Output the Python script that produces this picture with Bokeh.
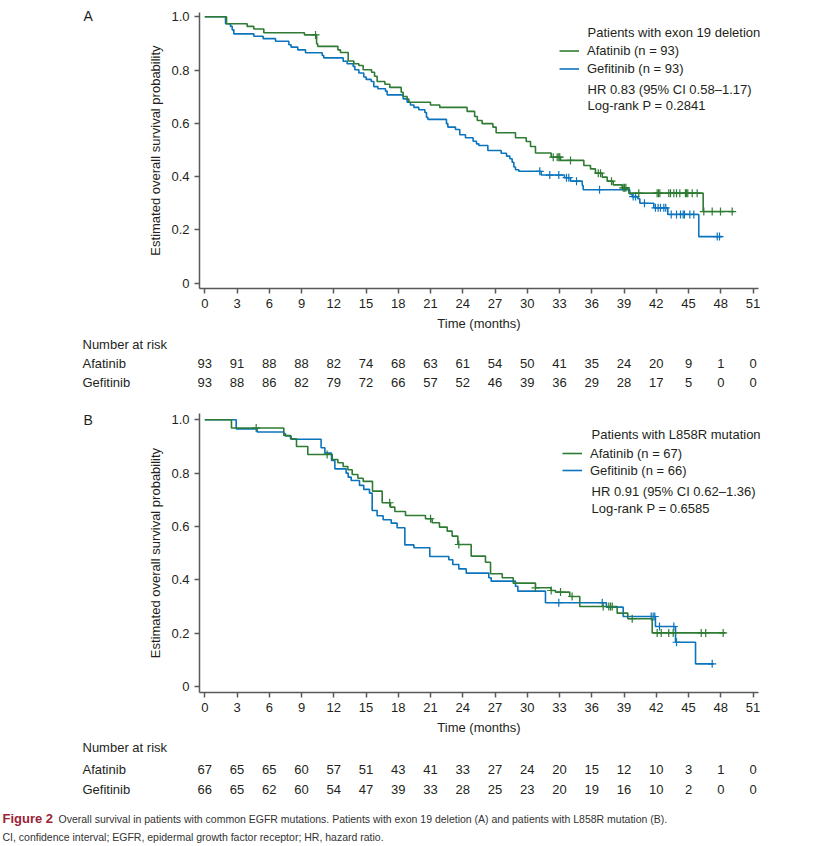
import numpy as np
from bokeh.plotting import figure
from bokeh.models import (Range1d, FixedTicker, Label, LabelSet, ColumnDataSource,
                          Legend, LegendItem, CustomJSTickFormatter)
from bokeh.layouts import column
from bokeh.embed import file_html
from bokeh.resources import INLINE
from bokeh.core.properties import value

# ---------------- data ----------------
x_ticks = list(range(0, 52, 3))
y_ticks = [0, 0.2, 0.4, 0.6, 0.8, 1.0]
risk_times = list(range(0, 52, 3))
risk_rows = ["Afatinib", "Gefitinib"]

a_afa_risk = [93, 91, 88, 88, 82, 74, 68, 63, 61, 54, 50, 41, 35, 24, 20, 9, 1, 0]
a_gef_risk = [93, 88, 86, 82, 79, 72, 66, 57, 52, 46, 39, 36, 29, 28, 17, 5, 0, 0]
b_afa_risk = [67, 65, 65, 60, 57, 51, 43, 41, 33, 27, 24, 20, 15, 12, 10, 3, 1, 0]
b_gef_risk = [66, 65, 62, 60, 54, 47, 39, 33, 28, 25, 23, 20, 19, 16, 10, 2, 0, 0]

# Panel A, Afatinib (exon 19 deletion)
a_afa_time = [2.02, 3.94, 4.56, 5.49, 9.27, 10.40, 10.50, 12.38, 12.62, 13.34, 13.86, 14.33,
              14.73, 15.51, 15.79, 16.03, 16.75, 17.21, 18.27, 18.45, 18.82, 18.98, 20.99,
              21.86, 24.40, 25.10, 25.35, 25.80, 26.80, 27.10, 28.90, 29.90, 30.30, 30.76,
              32.22, 33.09, 35.26, 35.88, 36.34, 36.97, 37.43, 37.99, 38.83, 39.44, 46.36]
a_afa_surv = [0.974, 0.964, 0.954, 0.940, 0.932, 0.899, 0.889, 0.876, 0.866, 0.834, 0.824, 0.817,
              0.801, 0.792, 0.777, 0.757, 0.747, 0.735, 0.717, 0.701, 0.691, 0.679, 0.669,
              0.660, 0.645, 0.626, 0.611, 0.599, 0.586, 0.565, 0.546, 0.532, 0.513, 0.489,
              0.473, 0.461, 0.442, 0.429, 0.413, 0.398, 0.383, 0.369, 0.358, 0.338, 0.269]
a_afa_last = 49.2
a_afa_cens = [10.3, 32.41, 32.78, 32.93, 33.02, 34.02, 36.6, 36.81, 37.83, 38.92, 39.04, 39.17,
              40.37, 42.08, 42.2, 42.33, 43.16, 43.32, 43.63, 43.88, 44.19, 44.71, 44.81,
              44.93, 45.34, 45.8, 46.42, 47.2, 47.97, 49.06]

# Panel A, Gefitinib
a_gef_time = [1.93, 2.39, 2.55, 2.70, 4.56, 5.43, 6.58, 7.82, 8.03, 8.65, 9.37, 10.92, 11.07,
              12.87, 13.24, 13.80, 13.96, 14.33, 14.79, 15.01, 15.48, 15.72, 16.10, 16.81,
              16.96, 18.45, 18.82, 19.13, 19.45, 19.91, 20.47, 20.62, 20.75, 22.48, 22.61,
              23.32, 23.72, 24.25, 24.96, 25.27, 25.49, 26.33, 27.57, 28.07, 28.38, 28.59,
              28.75, 28.90, 29.21, 31.29, 33.46, 34.02, 35.11, 35.20, 39.53, 39.76, 40.28,
              40.47, 41.77, 43.07, 45.95]
a_gef_surv = [0.974, 0.964, 0.951, 0.936, 0.927, 0.918, 0.908, 0.895, 0.886, 0.876, 0.865, 0.855,
              0.846, 0.833, 0.824, 0.814, 0.801, 0.789, 0.774, 0.765, 0.757, 0.738, 0.730,
              0.721, 0.707, 0.692, 0.679, 0.669, 0.660, 0.651, 0.641, 0.623, 0.615, 0.599,
              0.586, 0.577, 0.557, 0.546, 0.533, 0.523, 0.517, 0.498, 0.488, 0.477, 0.467,
              0.454, 0.436, 0.426, 0.420, 0.406, 0.396, 0.383, 0.367, 0.351, 0.335, 0.325,
              0.317, 0.300, 0.283, 0.258, 0.175]
a_gef_last = 48.13
a_gef_cens = [31.16, 32.09, 32.93, 33.65, 33.86, 34.58, 36.72, 39.85, 40.07, 40.9, 41.92, 42.17,
              42.39, 42.7, 42.88, 43.39, 43.88, 44.25, 44.5, 44.62, 45.12, 45.49, 47.67, 47.88]

# Panel B, Afatinib (L858R mutation)
b_afa_time = [2.48, 7.35, 7.97, 8.53, 9.58, 11.85, 12.38, 12.87, 13.31, 13.71, 14.24, 14.73,
              15.60, 16.50, 17.27, 17.68, 18.67, 20.53, 21.15, 21.83, 22.55, 23.01, 23.54,
              24.78, 26.11, 26.58, 27.67, 28.69, 30.76, 32.22, 32.62, 33.95, 34.88, 38.36,
              39.35, 41.62]
b_afa_surv = [0.969, 0.941, 0.929, 0.900, 0.870, 0.851, 0.839, 0.825, 0.8125, 0.795, 0.781,
              0.769, 0.7325, 0.689, 0.6725, 0.656, 0.641, 0.629, 0.614, 0.5975, 0.5825, 0.564,
              0.5325, 0.489, 0.466, 0.4225, 0.4075, 0.3875, 0.370, 0.360, 0.354, 0.3375, 0.300,
              0.275, 0.254, 0.201]
b_afa_last = 48.43
b_afa_cens = [4.78, 11.38, 17.2, 21.0, 23.63, 30.76, 32.22, 33.09, 34.17, 37.06, 37.58, 37.74,
              37.9, 39.76, 42.08, 42.46, 43.16, 43.57, 46.18, 46.6, 48.22]

# Panel B, Gefitinib
b_gef_time = [2.92, 4.87, 7.35, 7.51, 8.03, 10.82, 11.17, 11.79, 12.10, 13.15, 13.34, 13.62,
              14.39, 14.79, 15.32, 15.57, 16.03, 16.59, 17.34, 17.89, 18.61, 19.45, 20.93,
              22.70, 23.07, 23.63, 24.32, 26.42, 26.64, 28.90, 29.12, 31.69, 37.36, 38.92,
              41.92, 43.79, 45.65]
b_gef_surv = [0.966, 0.954, 0.9475, 0.939, 0.927, 0.895, 0.875, 0.8475, 0.816, 0.800, 0.785,
              0.7725, 0.754, 0.739, 0.725, 0.660, 0.640, 0.625, 0.6125, 0.595, 0.531, 0.520,
              0.4875, 0.475, 0.4575, 0.441, 0.425, 0.4075, 0.395, 0.376, 0.3575, 0.314, 0.2975,
              0.2625, 0.225, 0.166, 0.085]
b_gef_last = 47.35
b_gef_cens = [32.93, 36.97, 41.53, 41.71, 41.86, 42.3, 43.63, 43.88, 47.2]

# ---------------- style / geometry ----------------
FONT = "Liberation Sans"
GREEN = "#2E7B33"
BLUE = "#0B74BD"
AXIS = "#58595B"
TEXT = "#231F20"

FIG_W = 817
AX_L, AX_R = 199, 758                 # page pixels of the axis extent
X0_PX, PX_PER_MONTH = 204.3, 10.75    # page pixel of month 0, pixels per month


def xd(px):
    return (px - X0_PX) / PX_PER_MONTH


def step_path(times, surv, last):
    xs = [0.0] + list(times) + [last]
    ys = [1.0] + list(surv) + [surv[-1]]
    return xs, ys


def surv_at(times, surv, c):
    t = np.array([0.0] + list(times))
    s = np.array([1.0] + list(surv))
    idx = np.searchsorted(t, np.asarray(c), side="right") - 1
    return s[idx]


def make_panel(letter, page_top, height, ax_top, ax_bottom, y0_py, y1_py,
               afa, gef, title, labels, cfg, risks, risk_y):
    def yd(py):
        return (y0_py - py) / (y0_py - y1_py)

    p = figure(width=FIG_W, height=height, title=None,
               x_range=Range1d(xd(0), xd(FIG_W)),
               y_range=Range1d(yd(page_top + height), yd(page_top)),
               output_backend="svg", toolbar_location=None,
               min_border=0, min_border_left=0, min_border_right=0,
               min_border_top=0, min_border_bottom=0)
    p.outline_line_color = None
    p.grid.visible = False
    p.background_fill_color = "white"
    p.border_fill_color = "white"

    for ax in (p.xaxis[0], p.yaxis[0]):
        ax.axis_line_color = AXIS
        ax.axis_line_width = 1.5
        ax.major_tick_line_color = AXIS
        ax.major_tick_line_width = 1.5
        ax.major_tick_in = 0
        ax.major_tick_out = 5
        ax.minor_tick_line_color = None
        ax.major_label_text_font = FONT
        ax.major_label_text_font_size = "13px"
        ax.major_label_text_color = TEXT
        ax.major_label_standoff = 5
        ax.axis_label_text_font = FONT
        ax.axis_label_text_font_size = "13px"
        ax.axis_label_text_font_style = "normal"
        ax.axis_label_text_color = TEXT
    p.xaxis.ticker = FixedTicker(ticks=x_ticks)
    p.yaxis.ticker = FixedTicker(ticks=y_ticks)
    p.yaxis.formatter = CustomJSTickFormatter(code="return tick == 0 ? '0' : tick.toFixed(1);")
    p.xaxis.axis_label = "Time (months)"
    p.yaxis.axis_label = "Estimated overall survival probability"
    p.xaxis.axis_label_standoff = 5
    p.yaxis.axis_label_standoff = 5
    p.xaxis.fixed_location = yd(ax_bottom)
    p.xaxis.bounds = (xd(AX_L), xd(AX_R))
    p.yaxis.fixed_location = xd(AX_L)
    p.yaxis.bounds = (yd(ax_bottom), yd(ax_top))

    # curves (blue below green)
    rends = {}
    for key, (t, s, last, cens), col in (("gef", gef, BLUE), ("afa", afa, GREEN)):
        xs, ys = step_path(t, s, last)
        r = p.step(x=xs, y=ys, mode="after", line_color=col, line_width=1.6)
        p.scatter(x=cens, y=surv_at(t, s, cens), marker="cross", size=8,
                  line_color=col, line_width=1.2)
        rends[key] = r

    leg = Legend(items=[LegendItem(label=labels[0], renderers=[rends["afa"]]),
                        LegendItem(label=labels[1], renderers=[rends["gef"]])],
                 location=cfg["legend_loc"], padding=0, margin=0,
                 spacing=1, glyph_width=20,
                 glyph_height=cfg["leg_h"], label_height=cfg["leg_h"],
                 label_standoff=8, label_text_font=FONT, label_text_font_size="13px",
                 label_text_color=TEXT, background_fill_alpha=0, border_line_alpha=0)
    p.add_layout(leg)

    def lab(px, py, txt, size="13px", font=FONT, style="normal", color=TEXT, align="left"):
        p.add_layout(Label(x=xd(px), y=yd(py), text=txt, text_font=font,
                           text_font_size=size, text_font_style=style, text_color=color,
                           text_baseline="middle", text_align=align))

    tx = cfg["text_x"]
    lab(tx, cfg["title_y"], title)
    for txt, py in zip(cfg["lines"], cfg["lines_y"]):
        lab(tx, py, txt)

    # panel letter
    lab(83, cfg["letter_y"], letter, size="14px")

    # number at risk table
    lab(82, risk_y[0], "Number at risk")
    for name, counts, py in zip(risk_rows, risks, risk_y[1:]):
        lab(82, py, name)
        src = ColumnDataSource(dict(x=risk_times, y=[yd(py)] * len(risk_times),
                                    text=[str(c) for c in counts]))
        p.add_layout(LabelSet(x="x", y="y", text="text", source=src, text_align="center",
                              text_baseline="middle", text_font=value(FONT),
                              text_font_size=value("13px"), text_color=TEXT))
    return p, lab


pA, labA = make_panel(
    "A", 0, 400, 12, 288.3, 282.7, 16.3,
    (a_afa_time, a_afa_surv, a_afa_last, a_afa_cens),
    (a_gef_time, a_gef_surv, a_gef_last, a_gef_cens),
    "Patients with exon 19 deletion",
    ["Afatinib (n = 93)", "Gefitinib (n = 93)"],
    dict(legend_loc=(559, 323), leg_h=17, text_x=587, title_y=31.7,
         lines=["HR 0.83 (95% CI 0.58\u20131.17)", "Log-rank P = 0.2841"],
         lines_y=[89.3, 105.3], letter_y=15),
    [a_afa_risk, a_gef_risk], [344, 363.3, 382.3])

pB, labB = make_panel(
    "B", 400, 446, 413, 692.3, 686.0, 419.3,
    (b_afa_time, b_afa_surv, b_afa_last, b_afa_cens),
    (b_gef_time, b_gef_surv, b_gef_last, b_gef_cens),
    "Patients with L858R mutation",
    ["Afatinib (n = 67)", "Gefitinib (n = 66)"],
    dict(legend_loc=(562, 368), leg_h=16, text_x=591, title_y=434.3,
         lines=["HR 0.91 (95% CI 0.62\u20131.36)", "Log-rank P = 0.6585"],
         lines_y=[491, 508.3], letter_y=419.6),
    [b_afa_risk, b_gef_risk], [747, 768.7, 789])

# caption
labB(2, 818, "Figure 2", size="13px", style="bold", color="#9B2335")
labB(58, 818, "Overall survival in patients with common EGFR mutations. "
               "Patients with exon 19 deletion (A) and patients with L858R mutation (B).",
     size="10.5px", color="#333333")
labB(2, 836.5, "CI, confidence interval; EGFR, epidermal growth factor receptor; HR, hazard ratio.",
     size="10.5px", color="#333333")

layout = column(pA, pB, spacing=0)
open("out.html", "w").write(file_html(layout, INLINE))
